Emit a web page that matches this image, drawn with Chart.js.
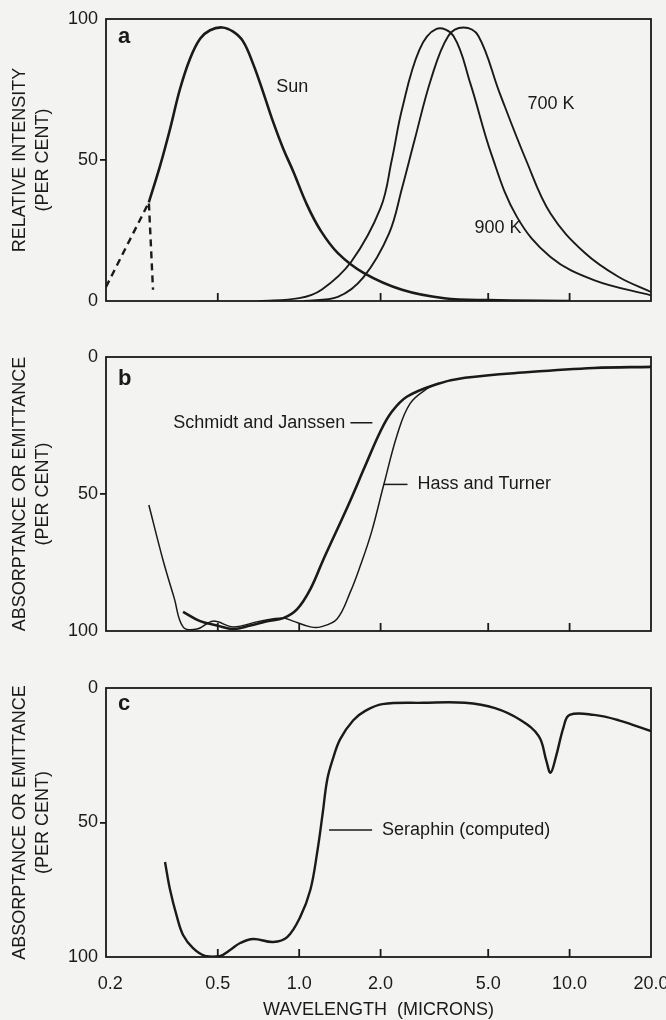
<!DOCTYPE html>
<html>
<head>
<title>Spectra</title>
<script src="https://cdn.jsdelivr.net/npm/chart.js"></script>
<style>
  body { margin: 0; background: #f3f3f1; }
  #wrap { position: relative; width: 666px; height: 1020px; }
  .panel { position: absolute; left: 0; width: 666px; }
</style>
</head>
<body>
<div id="wrap">
  <div class="panel" style="top:0;height:320px"><canvas id="chartA"></canvas></div>
  <div class="panel" style="top:320px;height:320px"><canvas id="chartB"></canvas></div>
  <div class="panel" style="top:640px;height:380px"><canvas id="chartC"></canvas></div>
</div>
<script>
// wavelength ticks (microns)
const xTickLabels = [0.2, 0.5, 1.0, 2.0, 5.0, 10.0, 20.0];
const yTickValues = [0, 50, 100];

// panel a - relative intensity
const sunX = [0.278, 0.306, 0.333, 0.362, 0.395, 0.43, 0.468, 0.519, 0.57, 0.621, 0.676, 0.736, 0.801, 0.873, 0.95, 1.07, 1.2, 1.39, 1.73, 2.4, 3.44, 5.0, 10.0];
const sunY = [35, 48, 61, 75, 86, 93, 96, 97, 95.5, 92, 84, 74, 63.5, 54, 46, 34, 25, 17, 10, 4, 1, 0.3, 0];
const sunDashX = [0.193, 0.278, 0.288];
const sunDashY = [5, 35, 4];
const k900X = [0.71, 1.0, 1.21, 1.56, 2.0, 2.2, 2.4, 2.78, 3.22, 3.72, 4.3, 5.14, 6.37, 8.5, 12.3, 20];
const k900Y = [0, 1, 4, 14, 33, 50, 68, 89, 96.5, 94, 77, 52, 30, 15.6, 7.4, 2];
const k700X = [1.04, 1.39, 1.73, 2.15, 2.4, 2.67, 3.08, 3.56, 4.05, 4.6, 5.5, 6.9, 8.5, 11.4, 15.2, 20];
const k700Y = [0, 1.5, 8.5, 24, 40, 57, 79, 94, 97, 94, 74, 50, 31, 17, 8.5, 3.2];

// panel b - absorptance
const hassX = [0.278, 0.313, 0.345, 0.372, 0.419, 0.48, 0.57, 0.717, 0.873, 0.95, 1.10, 1.2, 1.38, 1.545, 1.68, 1.85, 2.05, 2.31, 2.57, 2.98, 3.3];
const hassY = [54, 73.8, 88, 98.5, 99.3, 96.4, 98.5, 96.4, 95.3, 96.4, 98.5, 98.5, 95.6, 85.8, 76.4, 64, 47, 28, 17, 11.5, 9.5];
const schmidtX = [0.372, 0.43, 0.497, 0.57, 0.659, 0.761, 0.873, 0.983, 1.10, 1.23, 1.52, 1.75, 2.0, 2.2, 2.5, 3.2, 4.1, 7.1, 12.3, 20];
const schmidtY = [93, 96.4, 98, 99.3, 98, 96.4, 95.3, 92, 84.7, 73.8, 54, 40, 27, 20, 14.5, 10, 7.6, 5.5, 4, 3.6];

// panel c - computed absorptance
const seraX = [0.319, 0.333, 0.353, 0.372, 0.405, 0.449, 0.51, 0.555, 0.605, 0.676, 0.801, 0.903, 1.01, 1.10, 1.166, 1.22, 1.27, 1.336, 1.418, 1.585, 1.755, 2.03, 2.88, 4.1, 5.3, 6.6, 7.7, 8.2, 8.5, 8.9, 9.5, 10.0, 12.3, 15.2, 20];
const seraY = [64.7, 75, 85, 91.8, 96.7, 99.6, 99.6, 97.4, 94.8, 93.3, 94.4, 92.6, 85, 75, 61, 47, 34, 26, 19, 12, 8.5, 6, 5.5, 5.5, 7.5, 12, 18, 27, 31.5, 25.6, 14.5, 10, 10, 12, 16];

const INK = '#1a1a1a';
const FONT = "'Liberation Sans', Arial, sans-serif";
Chart.defaults.font.family = FONT;
Chart.defaults.color = INK;

function pts(xs, ys) {
    return xs.map((x, i) => ({ x: x, y: ys[i] }));
}

function curve(xs, ys, width, dash) {
    return {
        data: pts(xs, ys),
        borderColor: INK,
        borderWidth: width,
        borderDash: dash || [],
        borderJoinStyle: 'round',
        pointRadius: 0,
        tension: dash ? 0 : 0.38,
        fill: false
    };
}

// frame, inward ticks, panel letter and curve notes
const panelPlugin = {
    id: 'panel',
    afterDatasetsDraw(chart, args, opts) {
        const { ctx, chartArea: a, scales: { x, y } } = chart;
        ctx.save();
        ctx.strokeStyle = INK;
        ctx.lineWidth = 1.8;
        ctx.strokeRect(a.left, a.top, a.right - a.left, a.bottom - a.top);
        opts.marks.forEach(v => {
            const px = x.getPixelForValue(v);
            ctx.beginPath();
            ctx.moveTo(px, a.bottom);
            ctx.lineTo(px, a.bottom - 8);
            ctx.stroke();
        });
        ctx.fillStyle = INK;
        ctx.font = 'bold 22px ' + FONT;
        ctx.textBaseline = 'alphabetic';
        ctx.fillText(opts.letter, a.left + 12, a.top + opts.letterDy);

        ctx.font = '18px ' + FONT;
        ctx.textBaseline = 'middle';
        ctx.lineWidth = 1.5;
        opts.notes.forEach(n => {
            const px = x.getPixelForValue(n.x);
            const py = y.getPixelForValue(n.y);
            if (n.lead > 0) {
                ctx.beginPath(); ctx.moveTo(px, py); ctx.lineTo(px + n.lead, py); ctx.stroke();
                ctx.textAlign = 'left';
                ctx.fillText(n.text, px + n.lead + 10, py);
            } else if (n.lead < 0) {
                ctx.beginPath(); ctx.moveTo(px, py); ctx.lineTo(px + n.lead, py); ctx.stroke();
                ctx.textAlign = 'right';
                ctx.fillText(n.text, px + n.lead - 5, py);
            } else {
                ctx.textAlign = 'left';
                ctx.fillText(n.text, px, py);
            }
        });
        ctx.restore();
    }
};

function makeChart(id, cfg) {
    new Chart(document.getElementById(id), {
        type: 'line',
        data: { datasets: cfg.datasets },
        options: {
            responsive: true,
            maintainAspectRatio: false,
            animation: false,
            events: [],
            layout: { padding: { top: cfg.top, right: 15, left: 0, bottom: 0 } },
            plugins: {
                legend: { display: false },
                tooltip: { enabled: false },
                panel: { letter: cfg.letter, letterDy: cfg.letterDy, marks: cfg.marks, notes: cfg.notes }
            },
            scales: {
                x: {
                    type: 'logarithmic',
                    min: 0.193,
                    max: 20,
                    afterBuildTicks: s => { s.ticks = xTickLabels.map(v => ({ value: v })); },
                    afterFit: s => { s.height = cfg.xHeight; s.paddingLeft = 0; s.paddingRight = 0; },
                    grid: { display: false },
                    border: { display: false },
                    ticks: {
                        display: cfg.showX,
                        font: { size: 18 },
                        padding: 8,
                        maxRotation: 0,
                        autoSkip: false,
                        callback: v => Number(v).toFixed(1)
                    },
                    title: {
                        display: cfg.showX,
                        text: 'WAVELENGTH  (MICRONS)',
                        font: { size: 18, lineHeight: 1.1 },
                        padding: { top: 0, bottom: 0 }
                    }
                },
                y: {
                    min: 0,
                    max: 100,
                    reverse: cfg.reverse,
                    afterBuildTicks: s => { s.ticks = yTickValues.map(v => ({ value: v })); },
                    afterFit: s => { s.width = 106; s.paddingTop = 0; s.paddingBottom = 0; },
                    border: { display: false },
                    grid: {
                        drawOnChartArea: false,
                        drawTicks: true,
                        tickLength: 6,
                        lineWidth: 1.8,
                        color: c => (c.tick && c.tick.value === 50) ? INK : 'rgba(0,0,0,0)'
                    },
                    ticks: { font: { size: 18 }, padding: 2 },
                    title: {
                        display: true,
                        text: cfg.yTitle,
                        font: { size: 18, lineHeight: 1.25 },
                        padding: { top: 9, bottom: 0 }
                    }
                }
            }
        },
        plugins: [panelPlugin]
    });
}

makeChart('chartA', {
    top: 19, xHeight: 19, showX: false, reverse: false,
    yTitle: ['RELATIVE INTENSITY', '(PER CENT)'],
    letter: 'a', letterDy: 24,
    marks: [0.5, 2, 5, 10],
    datasets: [
        curve(sunX, sunY, 2.6),
        curve(sunDashX, sunDashY, 2.4, [7, 5]),
        curve(k900X, k900Y, 1.9),
        curve(k700X, k700Y, 1.9)
    ],
    notes: [
        { text: 'Sun', x: 0.822, y: 76, lead: 0 },
        { text: '700 K', x: 6.99, y: 70, lead: 0 },
        { text: '900 K', x: 4.45, y: 26, lead: 0 }
    ]
});

makeChart('chartB', {
    top: 37, xHeight: 9, showX: false, reverse: true,
    yTitle: ['ABSORPTANCE OR EMITTANCE', '(PER CENT)'],
    letter: 'b', letterDy: 28,
    marks: [0.5, 1, 2, 5, 10],
    datasets: [
        curve(hassX, hassY, 1.5),
        curve(schmidtX, schmidtY, 2.6)
    ],
    notes: [
        { text: 'Schmidt and Janssen', x: 1.865, y: 24, lead: -22 },
        { text: 'Hass and Turner', x: 2.05, y: 46.5, lead: 24 }
    ]
});

makeChart('chartC', {
    top: 48, xHeight: 63, showX: true, reverse: true,
    yTitle: ['ABSORPTANCE OR EMITTANCE', '(PER CENT)'],
    letter: 'c', letterDy: 22,
    marks: [0.5, 1, 2, 5, 10],
    datasets: [
        curve(seraX, seraY, 2.4)
    ],
    notes: [
        { text: 'Seraphin (computed)', x: 1.29, y: 52.8, lead: 43 }
    ]
});
</script>
</body>
</html>
